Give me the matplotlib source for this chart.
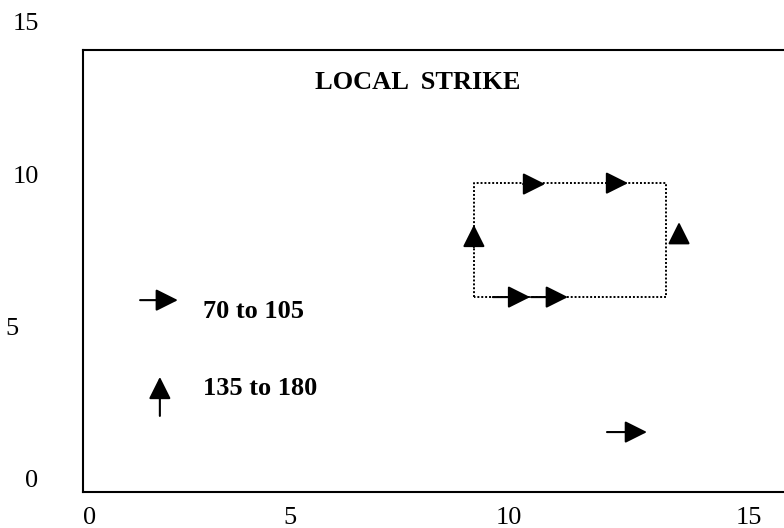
import matplotlib.pyplot as plt
from matplotlib.transforms import ScaledTranslation

# right-pointing arrows (70 to 105): tail x, tip x, y
right_tail_x = [1.14, 9.17, 10.04, 9.86, 11.77, 11.77]
right_tip_x = [2.00, 10.02, 10.88, 10.36, 12.25, 12.68]
right_y = [5.87, 5.97, 5.97, 9.68, 9.71, 1.54]

# upward arrows (135 to 180): x, tail y, tip y
up_x = [1.59, 8.74, 13.41]
up_tail_y = [2.07, 7.61, 7.75]
up_tip_y = [3.35, 8.34, 8.43]

# dotted loop
loop_x = [8.74, 8.74, 13.11, 13.11, 8.74]
loop_y = [5.97, 9.71, 9.71, 5.97, 5.97]

ticks = [0, 5, 10, 15]
tick_labels = ["0", "5", "10", "15"]
legend_labels = ["70 to 105", "135 to 180"]
title = "LOCAL  STRIKE"


def nudge(label, fig, dx):
    label.set_transform(label.get_transform() + ScaledTranslation(dx, 0, fig.dpi_scale_trans))


def main() -> None:
    plt.rcParams["font.family"] = ["Liberation Serif", "DejaVu Serif"]

    fig = plt.figure(figsize=(7.84, 5.28), dpi=100)
    ax = fig.add_axes([83 / 784, 36 / 528, 1 - 83 / 784, 1 - 36 / 528])

    ax.set_xlim(-0.16, 15.80)
    ax.set_ylim(-0.427, 15.72)
    frame_top = 14.08

    ax.plot(loop_x, loop_y, color="black", lw=1.4, linestyle=(0, (1, 1)))

    arrow = dict(
        arrowstyle="-|>,head_length=0.4,head_width=0.2",
        mutation_scale=34,
        lw=1.5,
        color="black",
        shrinkA=0,
        shrinkB=0,
    )
    for x0, x1, y in zip(right_tail_x, right_tip_x, right_y):
        ax.annotate("", xy=(x1, y), xytext=(x0, y), arrowprops=arrow)
    for x, y0, y1 in zip(up_x, up_tail_y, up_tip_y):
        ax.annotate("", xy=(x, y1), xytext=(x, y0), arrowprops=arrow)

    ax.text(7.47, 12.80, title, fontsize=19, fontweight="bold", ha="center", va="baseline")
    ax.text(2.57, 5.28, legend_labels[0], fontsize=19, fontweight="bold", va="baseline")
    ax.text(2.57, 2.76, legend_labels[1], fontsize=19, fontweight="bold", va="baseline")

    # frame
    ax.spines["right"].set_visible(False)
    ax.spines["top"].set_position(("data", frame_top))
    ax.spines["left"].set_bounds(-0.427, frame_top)
    for s in ("left", "bottom", "top"):
        ax.spines[s].set_linewidth(1.5)

    ax.set_xticks(ticks, tick_labels)
    ax.set_yticks(ticks, tick_labels)
    ax.tick_params(axis="both", length=0, labelsize=19)
    ax.tick_params(axis="x", pad=11)
    ax.tick_params(axis="y", pad=32)

    # labels in the original are not evenly placed
    nudge(ax.get_yticklabels()[1], fig, -0.2)
    nudge(ax.get_xticklabels()[1], fig, -0.2)
    nudge(ax.get_xticklabels()[2], fig, -0.2)

    fig.savefig("out.png", dpi=100)
    plt.close(fig)


if __name__ == "__main__":
    main()
